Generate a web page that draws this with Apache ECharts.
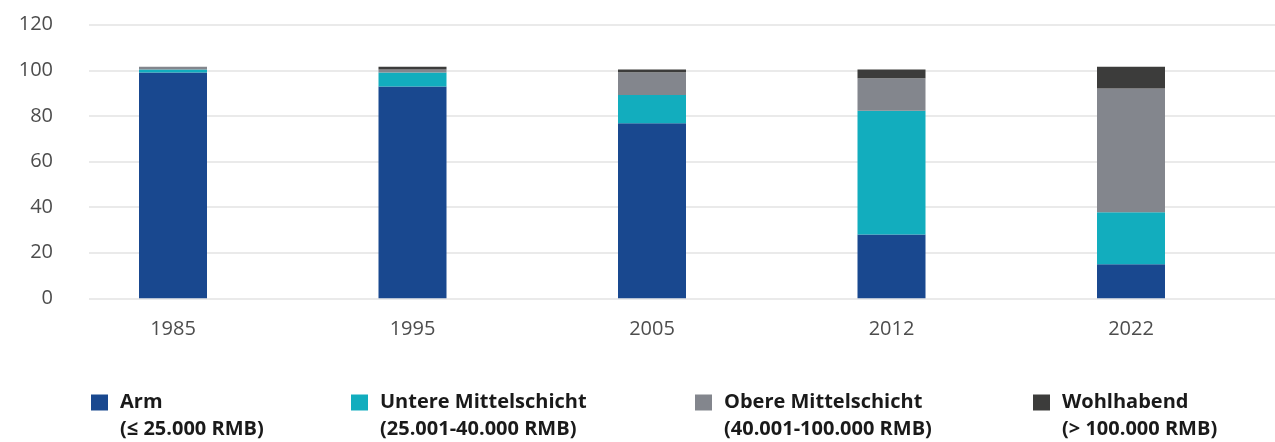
<!DOCTYPE html>
<html>
<head>
<meta charset="utf-8">
<script src="https://cdn.jsdelivr.net/npm/echarts@6/dist/echarts.min.js"></script>
<style>
  html, body { margin: 0; padding: 0; background: #fff; }
  #chart { width: 1275px; height: 442px; }
</style>
</head>
<body>
<div id="chart"></div>
<script>
const years = ["1985", "1995", "2005", "2012", "2022"];
const yTicks = [0, 20, 40, 60, 80, 100, 120];

const seriesNames = ["Arm", "Untere Mittelschicht", "Obere Mittelschicht", "Wohlhabend"];
const seriesRanges = ["(≤ 25.000 RMB)", "(25.001-40.000 RMB)", "(40.001-100.000 RMB)", "(> 100.000 RMB)"];
const seriesColors = ["#19488f", "#12adbe", "#83868d", "#3c3c3b"];

const arm = [99.0, 92.9, 76.8, 28.0, 14.9];
const untere = [1.3, 6.1, 12.4, 54.3, 22.8];
const obere = [1.3, 1.4, 9.9, 14.2, 54.3];
const wohlhabend = [0, 1.2, 1.2, 3.8, 9.6];
const values = [arm, untere, obere, wohlhabend];

const legendLeft = [91, 351, 695, 1033];
const font = "'Open Sans', 'Noto Sans', sans-serif";

const chart = echarts.init(document.getElementById("chart"));

const option = {
  animation: false,
  textStyle: { fontFamily: font },
  grid: [
    { left: 89, right: 0, top: 24.7, bottom: 143.7 },
    { left: 53.25, right: 24.25, top: 24.7, bottom: 143.7 },
  ],
  xAxis: [
    { gridIndex: 0, type: "value", show: false, min: 0, max: 1 },
    {
      gridIndex: 1,
      type: "category",
      data: years,
      axisLine: { show: false },
      axisTick: { show: false },
      axisLabel: { margin: 21, fontSize: 20, color: "#4d4d4d", fontFamily: font },
    },
  ],
  yAxis: [
    {
      gridIndex: 0,
      type: "value",
      min: yTicks[0],
      max: yTicks[yTicks.length - 1],
      interval: 20,
      axisLine: { show: false },
      axisTick: { show: false },
      axisLabel: { margin: 36, fontSize: 20, color: "#4d4d4d", fontFamily: font },
      splitLine: { lineStyle: { color: "#e3e3e3", width: 1.5 } },
    },
    { gridIndex: 1, type: "value", min: 0, max: 120, show: false },
  ],
  // one legend per item, so each sits where the reference puts it
  legend: seriesNames.map((name, i) => ({
    data: [name],
    left: legendLeft[i],
    top: 362,
    padding: 0,
    itemWidth: 17,
    itemHeight: 16,
    icon: "rect",
    selectedMode: false,
    // leading blank line keeps the first text line level with the square
    formatter: (n) => "\n" + n + "\n" + seriesRanges[i],
    textStyle: {
      fontFamily: font,
      fontSize: 20,
      fontWeight: "bold",
      color: "#1a1a1a",
      lineHeight: 27,
      padding: [0, 0, 0, 7],
    },
  })),
  series: seriesNames.map((name, i) => ({
    name: name,
    type: "bar",
    stack: "total",
    xAxisIndex: 1,
    yAxisIndex: 1,
    barWidth: 68,
    itemStyle: { color: seriesColors[i] },
    data: values[i],
  })),
};

chart.setOption(option);
</script>
</body>
</html>
